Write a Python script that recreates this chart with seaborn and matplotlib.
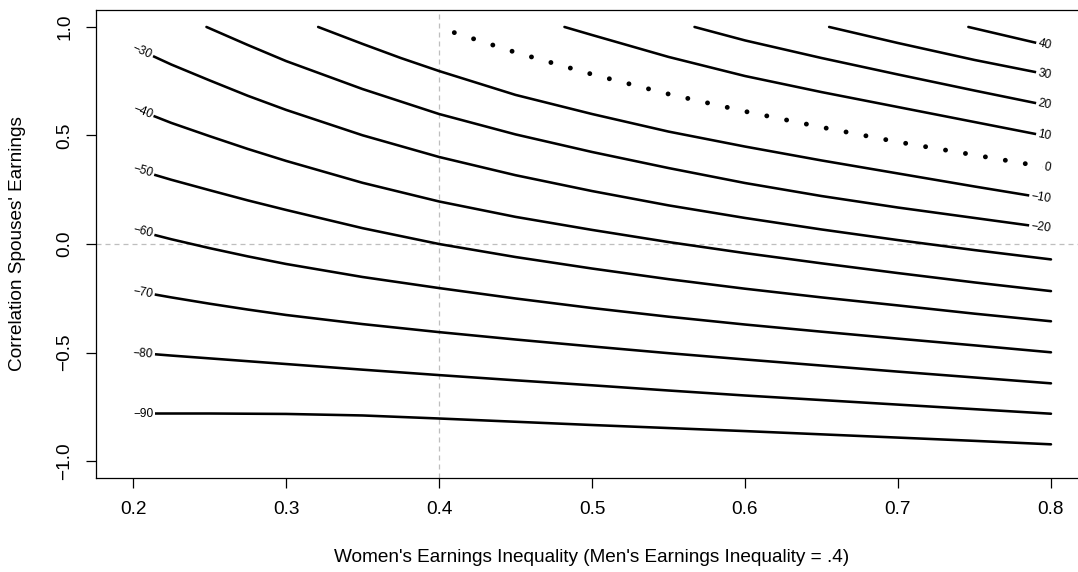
import matplotlib
matplotlib.use("Agg")
import matplotlib.pyplot as plt
import numpy as np
import pandas as pd
import seaborn as sns

sns.set_theme(style="ticks")
plt.rcParams["font.family"] = ["Liberation Sans", "DejaVu Sans"]

# Women's earnings inequality grid used by contours that span the whole panel
x_grid = [0.20, 0.225, 0.25, 0.275, 0.30, 0.35, 0.40, 0.45, 0.50, 0.55, 0.60, 0.65, 0.70, 0.75, 0.80]

# Contours labelled at the left margin (percent change levels)
y_m30 = [0.908, 0.827, 0.754, 0.683, 0.618, 0.501, 0.401, 0.317, 0.244, 0.178, 0.120, 0.067, 0.018, -0.028, -0.071]
y_m40 = [0.627, 0.558, 0.497, 0.438, 0.383, 0.282, 0.196, 0.125, 0.065, 0.009, -0.042, -0.089, -0.134, -0.177, -0.217]
y_m50 = [0.348, 0.296, 0.248, 0.201, 0.157, 0.073, 0.000, -0.060, -0.113, -0.162, -0.206, -0.246, -0.283, -0.321, -0.356]
y_m60 = [0.067, 0.022, -0.019, -0.057, -0.092, -0.152, -0.203, -0.251, -0.295, -0.335, -0.371, -0.404, -0.436, -0.467, -0.499]
y_m70 = [-0.215, -0.246, -0.275, -0.302, -0.327, -0.369, -0.406, -0.440, -0.472, -0.503, -0.532, -0.560, -0.588, -0.615, -0.642]
y_m80 = [-0.500, -0.514, -0.527, -0.540, -0.553, -0.579, -0.604, -0.628, -0.651, -0.675, -0.698, -0.719, -0.740, -0.761, -0.782]
y_m90 = [-0.781, -0.781, -0.781, -0.782, -0.783, -0.790, -0.804, -0.819, -0.834, -0.848, -0.862, -0.877, -0.892, -0.907, -0.923]

# Contours entering through the top edge, labelled at the right margin
x_m20 = [0.248, 0.275, 0.30, 0.35, 0.40, 0.45, 0.50, 0.55, 0.60, 0.65, 0.70, 0.75, 0.80]
y_m20 = [1.000, 0.917, 0.843, 0.714, 0.599, 0.505, 0.424, 0.350, 0.281, 0.221, 0.168, 0.120, 0.072]
x_m10 = [0.321, 0.35, 0.375, 0.40, 0.45, 0.50, 0.55, 0.60, 0.65, 0.70, 0.75, 0.80]
y_m10 = [1.000, 0.922, 0.857, 0.797, 0.687, 0.599, 0.518, 0.449, 0.385, 0.325, 0.265, 0.207]
x_0 = [0.410, 0.45, 0.50, 0.55, 0.60, 0.65, 0.70, 0.75, 0.80]
y_0 = [0.974, 0.883, 0.782, 0.691, 0.611, 0.538, 0.470, 0.410, 0.350]
x_10 = [0.482, 0.50, 0.55, 0.60, 0.65, 0.70, 0.75, 0.80]
y_10 = [1.000, 0.963, 0.862, 0.774, 0.700, 0.631, 0.562, 0.493]
x_20 = [0.567, 0.60, 0.65, 0.70, 0.75, 0.80]
y_20 = [1.000, 0.938, 0.857, 0.781, 0.707, 0.635]
x_30 = [0.655, 0.70, 0.75, 0.80]
y_30 = [1.000, 0.926, 0.848, 0.778]
x_40 = [0.746, 0.80]
y_40 = [1.000, 0.911]

left_contours = [(-30, x_grid, y_m30), (-40, x_grid, y_m40), (-50, x_grid, y_m50),
                 (-60, x_grid, y_m60), (-70, x_grid, y_m70), (-80, x_grid, y_m80),
                 (-90, x_grid, y_m90)]
right_contours = [(-20, x_m20, y_m20), (-10, x_m10, y_m10), (10, x_10, y_10),
                  (20, x_20, y_20), (30, x_30, y_30), (40, x_40, y_40)]

x_ticks = [0.2, 0.3, 0.4, 0.5, 0.6, 0.7, 0.8]
y_ticks = [-1.0, -0.5, 0.0, 0.5, 1.0]
y_ticklabels = ["\u22121.0", "\u22120.5", "0.0", "0.5", "1.0"]

W, H = 1078, 572
fig = plt.figure(figsize=(W / 100, H / 100), dpi=100)
ax = fig.add_axes([96.3 / W, (H - 478.4) / H, 991.4 / W, 468.8 / H])
ax.set_xlim(0.176, 0.824)
ax.set_ylim(-1.08, 1.08)

# reference lines
grey = "#bebebe"
ax.axvline(0.4, color=grey, lw=0.9, ls=(0, (4, 3.2)), zorder=1)
ax.axhline(0.0, color=grey, lw=0.9, ls=(0, (4, 3.2)), zorder=1)

frames = [pd.DataFrame({"level": lev, "x": xs, "y": ys})
          for lev, xs, ys in left_contours + right_contours]
solid = pd.concat(frames, ignore_index=True)
sns.lineplot(data=solid, x="x", y="y", units="level", estimator=None, sort=False,
             color="black", lw=1.85, ax=ax, zorder=3, legend=False)

zero = pd.DataFrame({"x": x_0, "y": y_0})
sns.lineplot(data=zero, x="x", y="y", estimator=None, sort=False, color="black",
             lw=3.5, ls=(0, (0.01, 4.15)), dash_capstyle="round", ax=ax, zorder=3,
             legend=False)


def fmt(level):
    return ("\u2212%d" % -level) if level < 0 else "%d" % level


def contour_label(level, xs, ys, side):
    if side == "left":
        p0, p1 = (xs[0], ys[0]), (xs[1], ys[1])
        anchor, ha = p0, "left"
    else:
        p0, p1 = (xs[-2], ys[-2]), (xs[-1], ys[-1])
        anchor, ha = p1, "right"
    d0 = ax.transData.transform(p0)
    d1 = ax.transData.transform(p1)
    ang = np.degrees(np.arctan2(d1[1] - d0[1], d1[0] - d0[0]))
    ax.text(anchor[0], anchor[1], fmt(level), rotation=ang, rotation_mode="anchor",
            ha=ha, va="center", fontsize=8.6, color="black", zorder=5,
            bbox=dict(boxstyle="square,pad=0.16", fc="white", ec="none"))


for lev, xs, ys in left_contours:
    contour_label(lev, xs, ys, "left")
for lev, xs, ys in right_contours:
    contour_label(lev, xs, ys, "right")
contour_label(0, x_0, y_0, "right")

ax.set_xticks(x_ticks)
ax.set_xticklabels(["%.1f" % v for v in x_ticks])
ax.set_yticks(y_ticks)
ax.set_yticklabels(y_ticklabels, rotation=90, va="center")
ax.tick_params(axis="both", direction="out", length=7, width=0.9, color="black",
               labelsize=13.7, labelcolor="black", pad=9.6)
for sp in ax.spines.values():
    sp.set_color("black")
    sp.set_linewidth(0.9)
    sp.set_visible(True)

ax.set_xlabel("Women's Earnings Inequality (Men's Earnings Inequality = .4)",
              fontsize=13.7, color="black")
ax.set_ylabel("Correlation Spouses' Earnings", fontsize=13.7, color="black")
ax.xaxis.set_label_coords(0.5, -0.1677)
ax.xaxis.label.set_va("center")
ax.yaxis.set_label_coords(-0.079, 0.5)
ax.yaxis.label.set_va("center")
ax.grid(False)

fig.savefig("out.png", dpi=100)
